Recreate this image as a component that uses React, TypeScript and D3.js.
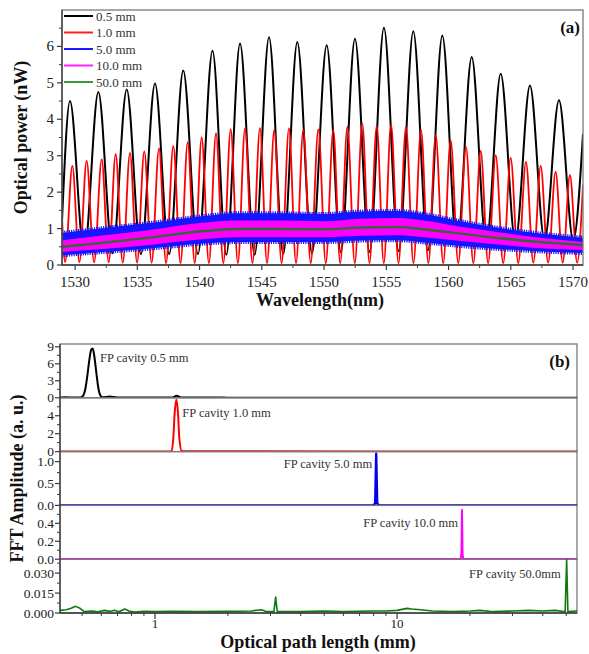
import React from "react";
import * as d3 from "d3";

const W = 589;
const H = 654;
const FONT = "'Liberation Serif', 'Times New Roman', serif";

// ---------- (a) transmission spectra ----------
const wlDomain: [number, number] = [1528.95, 1570.8];
const wlTicks = [1530, 1535, 1540, 1545, 1550, 1555, 1560, 1565, 1570];
const wlMinor = [1532.5, 1537.5, 1542.5, 1547.5, 1552.5, 1557.5, 1562.5, 1567.5];
const powerTicks = [0, 1, 2, 3, 4, 5, 6];
const powerMinor = [0.5, 1.5, 2.5, 3.5, 4.5, 5.5, 6.5];

// peaks / troughs of the 0.5 mm fringes (wavelength nm, power nW)
const spec05: [number, number][] = [
  [1528.95, 1.2], [1529.59, 4.5], [1530.73, 0.33], [1531.87, 4.75], [1533.01, 0.32],
  [1534.15, 4.82], [1535.29, 0.3], [1536.42, 4.98], [1537.56, 0.3], [1538.69, 5.34],
  [1539.87, 0.3], [1541.04, 5.88], [1542.15, 0.28], [1543.25, 6.08], [1544.42, 0.28],
  [1545.58, 6.25], [1546.72, 0.3], [1547.85, 6.12], [1549.03, 0.32], [1550.21, 6.03],
  [1551.35, 0.35], [1552.48, 6.21], [1553.65, 0.36], [1554.81, 6.51], [1555.99, 0.38],
  [1557.17, 6.42], [1558.34, 0.4], [1559.5, 6.3], [1560.68, 0.48], [1561.86, 5.71],
  [1563.03, 0.58], [1564.19, 5.25], [1565.37, 0.65], [1566.54, 4.93], [1567.71, 0.68],
  [1568.87, 4.52], [1570.02, 0.68], [1570.8, 3.6],
];

// peaks / troughs of the 1.0 mm fringes
const spec10: [number, number][] = [
  [1528.95, 1.3], [1529.2, 0.08], [1529.78, 2.72], [1530.35, 0.08], [1530.93, 2.86],
  [1531.53, 0.07], [1532.14, 2.9], [1532.7, 0.07], [1533.26, 3.04], [1533.83, 0.06],
  [1534.41, 3.08], [1534.98, 0.06], [1535.56, 3.12], [1536.15, 0.06], [1536.74, 3.2],
  [1537.31, 0.05], [1537.89, 3.27], [1538.47, 0.05], [1539.05, 3.37], [1539.61, 0.05],
  [1540.17, 3.5], [1540.75, 0.05], [1541.32, 3.61], [1541.91, 0.05], [1542.5, 3.72],
  [1543.08, 0.05], [1543.65, 3.75], [1544.25, 0.05], [1544.85, 3.76], [1545.42, 0.05],
  [1546.0, 3.7], [1546.59, 0.05], [1547.18, 3.75], [1547.75, 0.05], [1548.33, 3.7],
  [1548.93, 0.05], [1549.54, 3.72], [1550.14, 0.05], [1550.74, 3.7], [1551.3, 0.05],
  [1551.87, 3.79], [1552.47, 0.05], [1553.07, 3.88], [1553.65, 0.05], [1554.23, 3.82],
  [1554.8, 0.05], [1555.38, 3.85], [1555.98, 0.05], [1556.58, 3.79], [1557.18, 0.05],
  [1557.79, 3.7], [1558.38, 0.05], [1558.97, 3.56], [1559.57, 0.05], [1560.17, 3.42],
  [1560.78, 0.05], [1561.4, 3.24], [1561.99, 0.05], [1562.58, 3.13], [1563.18, 0.05],
  [1563.79, 3.01], [1564.39, 0.05], [1564.99, 2.94], [1565.6, 0.05], [1566.22, 2.83],
  [1566.81, 0.06], [1567.4, 2.72], [1568.0, 0.06], [1568.6, 2.56], [1569.17, 0.06],
  [1569.75, 2.47], [1570.33, 0.06], [1570.8, 2.2],
];

// dense fringes (5 mm, 10 mm) read as envelopes, 50 mm as a line
const bandWl = [1528.95, 1532, 1536, 1540, 1543, 1546, 1550, 1553, 1556, 1558, 1561, 1564, 1567, 1570.8];
const band5Upper = [0.88, 1.0, 1.15, 1.33, 1.42, 1.42, 1.4, 1.47, 1.48, 1.4, 1.2, 1.02, 0.88, 0.75];
const band5Lower = [0.27, 0.35, 0.45, 0.58, 0.63, 0.63, 0.63, 0.67, 0.68, 0.62, 0.52, 0.44, 0.38, 0.33];
const band10Upper = [0.68, 0.8, 0.96, 1.15, 1.22, 1.22, 1.2, 1.27, 1.29, 1.22, 1.05, 0.9, 0.76, 0.63];
const band10Lower = [0.36, 0.43, 0.55, 0.7, 0.76, 0.76, 0.76, 0.8, 0.82, 0.76, 0.66, 0.56, 0.47, 0.41];
const line50 = [0.5, 0.6, 0.75, 0.92, 0.99, 0.99, 0.98, 1.03, 1.04, 0.98, 0.86, 0.74, 0.64, 0.55];

const legendLabels = ["0.5 mm", "1.0 mm", "5.0 mm", "10.0 mm", "50.0 mm"];
const legendColors = ["#000000", "#ff2020", "#1a1aff", "#ff20ff", "#3a9a3a"];

// ---------- (b) FFT ----------
const oplDomain: [number, number] = [0.405, 55.4];
const oplMajor = [1, 10];
const oplMinor = [0.5, 0.6, 0.7, 0.8, 0.9, 2, 3, 4, 5, 6, 7, 8, 9, 20, 30, 40, 50];

const fft05: [number, number][] = [
  [0.405, 0.05], [0.43, 0.08], [0.46, 0.06], [0.49, 0.06], [0.505, 0.4], [0.515, 1.5],
  [0.525, 3.8], [0.535, 6.6], [0.545, 8.5], [0.553, 8.7], [0.562, 7.2], [0.572, 4.5],
  [0.582, 2.0], [0.592, 0.6], [0.605, 0.1], [0.63, 0.12], [0.65, 0.22], [0.68, 0.12],
  [0.72, 0.05], [0.85, 0.05], [1.0, 0.04], [1.18, 0.05], [1.23, 0.35], [1.28, 0.05],
  [2, 0.03], [5, 0.02], [20, 0.02], [55.4, 0.02],
];
const fft10: [number, number][] = [
  [0.405, 0.02], [1.0, 0.02], [1.17, 0.05], [1.19, 1.5], [1.205, 4.2], [1.225, 5.8],
  [1.245, 4.2], [1.26, 1.5], [1.29, 0.06], [1.35, 0.03], [55.4, 0.02],
];
const fft50: [number, number][] = [
  [0.405, 0], [8.0, 0.002], [8.12, 0.05], [8.2, 1.18], [8.28, 0.05], [8.4, 0.002], [55.4, 0],
];
const fft100: [number, number][] = [
  [0.405, 0.001], [18.3, 0.002], [18.45, 0.05], [18.55, 0.55], [18.65, 0.05], [18.8, 0.002], [55.4, 0.001],
];
const fft500: [number, number][] = [
  [0.405, 0.002], [0.43, 0.0025], [0.45, 0.0035], [0.47, 0.005], [0.49, 0.0035], [0.51, 0.001],
  [0.55, 0.0015], [0.58, 0.001], [0.62, 0.002], [0.65, 0.0012], [0.68, 0.002], [0.71, 0.001],
  [0.75, 0.003], [0.78, 0.0015], [0.82, 0.0008], [0.9, 0.0012], [1.0, 0.001], [1.2, 0.0012],
  [1.5, 0.001], [2.0, 0.0012], [2.5, 0.0015], [2.75, 0.0025], [2.9, 0.001], [3.1, 0.001],
  [3.15, 0.012], [3.2, 0.001], [4, 0.001], [5, 0.0015], [6, 0.001], [8, 0.0015], [9, 0.0015],
  [10, 0.002], [11, 0.0035], [11.5, 0.003], [12.5, 0.0025], [14, 0.0015], [17, 0.001],
  [20, 0.0015], [22, 0.002], [25, 0.001], [30, 0.0015], [35, 0.002], [40, 0.0015], [45, 0.002],
  [49.5, 0.001], [50.2, 0.04], [50.8, 0.001], [55.4, 0.0015],
];

const panelTitles = ["FP cavity 0.5 mm", "FP cavity 1.0 mm", "FP cavity 5.0 mm", "FP cavity 10.0 mm", "FP cavity 50.0mm"];
const panelPeaks = [0.549, 1.225, 8.2, 18.55, 50.2];
const panelDomains = [[0, 9.5], [0, 6], [0, 1.23], [0, 0.6], [0, 0.0405]];
const panelTicks = [[0, 3, 6, 9], [0, 2, 4], [0, 0.5, 1.0], [0, 0.2, 0.4], [0, 0.015, 0.03]];
const panelMinor = [[1.5, 4.5, 7.5], [1, 3, 5], [0.25, 0.75], [0.1, 0.3, 0.5], [0.0075, 0.0225, 0.0375]];
const panelFormats = ["d", "d", ".1f", ".1f", ".3f"];
const panelColors = ["#000000", "#ff0000", "#0000ee", "#ff00ff", "#0a7a0a"];
const panelData = [fft05, fft10, fft50, fft100, fft500];
// label placement relative to each peak: [dx, dy from panel top, anchor]
const labelPlace: [number, number, string][] = [
  [8, 18, "start"], [6, 19, "start"], [-4, 16, "end"], [-4, 22, "end"], [-6, 19, "end"],
];

export default function App() {
  // ---- (a) ----
  const ax = d3.scaleLinear().domain(wlDomain).range([62, 583]);
  const ay = d3.scaleLinear().domain([0, 7]).range([265, 10]);
  const fringe = d3
    .line<[number, number]>()
    .x((d) => ax(d[0]))
    .y((d) => ay(d[1]))
    .curve(d3.curveMonotoneX);
  const band = (up: number[], lo: number[]) =>
    d3
      .area<number>()
      .x((d) => ax(d))
      .y0((_, i) => ay(lo[i]))
      .y1((_, i) => ay(up[i]))
      .curve(d3.curveMonotoneX)(bandWl) || "";
  const edge = (vals: number[]) =>
    d3
      .line<number>()
      .x((d) => ax(d))
      .y((_, i) => ay(vals[i]))
      .curve(d3.curveMonotoneX)(bandWl) || "";

  // ---- (b) ----
  const bx = d3.scaleLog().domain(oplDomain).range([60, 577]);
  const bTop = 344;
  const bBottom = 613;
  const ph = (bBottom - bTop) / 5;

  const axisColor = "#3a3a3a";
  const frameColor = "#7a7a7a";

  return (
    <svg
      width={W}
      height={H}
      style={{ position: "absolute", left: 0, top: 0, background: "#fff" }}
      fontFamily={FONT}
    >
      <defs>
        <clipPath id="clipA">
          <rect x={62} y={10} width={521} height={255} />
        </clipPath>
        {panelData.map((_, i) => (
          <clipPath id={`clipB${i}`} key={i}>
            <rect x={60} y={bTop + i * ph - 1} width={517} height={ph + 1} />
          </clipPath>
        ))}
      </defs>

      {/* ===== panel (a) ===== */}
      <g clipPath="url(#clipA)">
        <path d={fringe(spec05) || ""} fill="none" stroke="#000" strokeWidth={2} />
        <path d={fringe(spec10) || ""} fill="none" stroke="#ff0000" strokeWidth={1.8} />
        <path d={band(band5Upper, band5Lower)} fill="#1515ff" />
        <path d={edge(band5Upper)} fill="none" stroke="#1515ff" strokeWidth={4} strokeDasharray="1.2 1.1" />
        <path d={edge(band5Lower)} fill="none" stroke="#1515ff" strokeWidth={4} strokeDasharray="1.2 1.1" />
        <path d={band(band10Upper, band10Lower)} fill="#ff00ff" />
        <path d={edge(line50)} fill="none" stroke="#2f6a2f" strokeWidth={2.4} />
      </g>
      <rect x={62} y={10} width={521} height={255} fill="none" stroke={frameColor} strokeWidth={1.3} />
      <line x1={62} x2={62} y1={10} y2={265} stroke={axisColor} strokeWidth={1.3} />
      <line x1={62} x2={583} y1={265} y2={265} stroke={axisColor} strokeWidth={1.3} />
      {powerTicks.map((t) => (
        <g key={`py${t}`}>
          <line x1={57} x2={62} y1={ay(t)} y2={ay(t)} stroke={axisColor} strokeWidth={1.2} />
          <text x={54} y={ay(t) + 5} textAnchor="end" fontSize={15} fill="#222">
            {t}
          </text>
        </g>
      ))}
      {powerMinor.map((t) => (
        <line key={`pm${t}`} x1={59} x2={62} y1={ay(t)} y2={ay(t)} stroke={axisColor} strokeWidth={1} />
      ))}
      {wlTicks.map((t) => (
        <g key={`wx${t}`}>
          <line x1={ax(t)} x2={ax(t)} y1={265} y2={270} stroke={axisColor} strokeWidth={1.2} />
          <text x={ax(t)} y={287} textAnchor="middle" fontSize={15} fill="#222">
            {t}
          </text>
        </g>
      ))}
      {wlMinor.map((t) => (
        <line key={`wm${t}`} x1={ax(t)} x2={ax(t)} y1={265} y2={268} stroke={axisColor} strokeWidth={1} />
      ))}
      <text x={320} y={306} textAnchor="middle" fontSize={18} fontWeight="bold" fill="#111">
        Wavelength(nm)
      </text>
      <text
        transform={`translate(27,${ay(3.5)}) rotate(-90)`}
        textAnchor="middle"
        fontSize={18}
        fontWeight="bold"
        fill="#111"
      >
        Optical power (nW)
      </text>
      <text x={580} y={33} textAnchor="end" fontSize={17} fontWeight="bold" fill="#111">
        (a)
      </text>
      {legendLabels.map((lab, i) => (
        <g key={lab}>
          <line x1={64} x2={93} y1={16 + i * 16.5} y2={16 + i * 16.5} stroke={legendColors[i]} strokeWidth={2} />
          <text x={96} y={20.5 + i * 16.5} fontSize={13} fill="#333">
            {lab}
          </text>
        </g>
      ))}

      {/* ===== panel (b) ===== */}
      {panelData.map((data, i) => {
        const top = bTop + i * ph;
        const bottom = top + ph;
        const py = d3.scaleLinear().domain(panelDomains[i]).range([bottom, top]);
        const fmt = d3.format(panelFormats[i]);
        const ln = d3
          .line<[number, number]>()
          .x((d) => bx(d[0]))
          .y((d) => py(d[1]))
          .curve(i === 0 || i === 1 ? d3.curveMonotoneX : d3.curveLinear);
        const [dx, dy, anchor] = labelPlace[i];
        return (
          <g key={`panel${i}`}>
            <rect x={60} y={top} width={517} height={ph} fill="none" stroke={frameColor} strokeWidth={1.3} />
            <g clipPath={`url(#clipB${i})`}>
              <path
                d={ln(data) || ""}
                fill="none"
                stroke={panelColors[i]}
                strokeWidth={i === 2 ? 2.4 : i === 4 ? 1.6 : 2}
                strokeLinejoin="round"
              />
            </g>
            {panelTicks[i].map((t) => (
              <g key={`bt${i}-${t}`}>
                <line x1={55} x2={60} y1={py(t)} y2={py(t)} stroke={axisColor} strokeWidth={1.2} />
                <text x={54} y={py(t) + 4.5} textAnchor="end" fontSize={13.5} fill="#222">
                  {fmt(t)}
                </text>
              </g>
            ))}
            {panelMinor[i].map((t) => (
              <line key={`bm${i}-${t}`} x1={57} x2={60} y1={py(t)} y2={py(t)} stroke={axisColor} strokeWidth={1} />
            ))}
            <text
              x={bx(panelPeaks[i]) + dx}
              y={top + dy}
              textAnchor={anchor}
              fontSize={12.5}
              fill="#333"
            >
              {panelTitles[i]}
            </text>
          </g>
        );
      })}
      <line x1={60} x2={60} y1={bTop} y2={bBottom} stroke={axisColor} strokeWidth={1.3} />
      <line x1={60} x2={577} y1={bBottom} y2={bBottom} stroke={axisColor} strokeWidth={1.3} />
      {oplMajor.map((t) => (
        <g key={`ox${t}`}>
          <line x1={bx(t)} x2={bx(t)} y1={bBottom} y2={bBottom + 6} stroke={axisColor} strokeWidth={1.2} />
          <text x={bx(t)} y={bBottom + 15} textAnchor="middle" fontSize={13} fill="#222">
            {t}
          </text>
        </g>
      ))}
      {oplMinor.map((t) => (
        <line key={`om${t}`} x1={bx(t)} x2={bx(t)} y1={bBottom} y2={bBottom + 3} stroke={axisColor} strokeWidth={1} />
      ))}
      <text x={318} y={648} textAnchor="middle" fontSize={18} fontWeight="bold" fill="#111">
        Optical path length (mm)
      </text>
      <text
        transform={`translate(23,${bTop + 2.5 * ph}) rotate(-90)`}
        textAnchor="middle"
        fontSize={18}
        fontWeight="bold"
        fill="#111"
      >
        FFT Amplitude (a. u.)
      </text>
      <text x={570} y={367} textAnchor="end" fontSize={17} fontWeight="bold" fill="#111">
        (b)
      </text>
    </svg>
  );
}
